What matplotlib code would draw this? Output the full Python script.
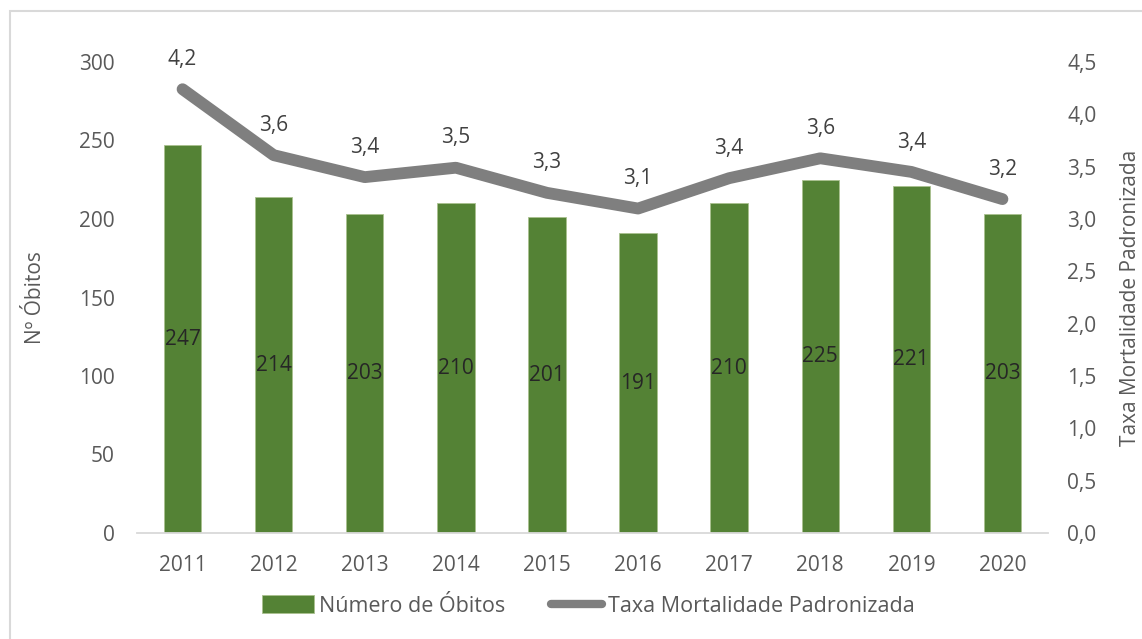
import matplotlib.pyplot as plt
from matplotlib.patches import Rectangle
from matplotlib.lines import Line2D

plt.rcParams['font.family'] = ['Open Sans', 'DejaVu Sans']

years = ['2011', '2012', '2013', '2014', '2015', '2016', '2017', '2018', '2019', '2020']
obitos = [247, 214, 203, 210, 201, 191, 210, 225, 221, 203]
taxa = [4.24, 3.61, 3.40, 3.49, 3.25, 3.10, 3.39, 3.58, 3.45, 3.19]
taxa_labels = ['4,2', '3,6', '3,4', '3,5', '3,3', '3,1', '3,4', '3,6', '3,4', '3,2']

green = '#548235'
grey = '#7f7f7f'
txt = '#595959'
fs = 15

fig = plt.figure(figsize=(11.42, 6.39), dpi=100)
# light border of the chart area
fig.patches.append(Rectangle((10 / 1142, -0.1), 1.2, 1 - 11 / 639 + 0.1,
                             transform=fig.transFigure, fill=False,
                             edgecolor='#d9d9d9', linewidth=1.5))

ax = fig.add_axes([137 / 1142, 1 - 533 / 639, 911 / 1142, 471 / 639])
x = list(range(len(years)))
bars = ax.bar(x, obitos, width=0.41, color=green, edgecolor='#a9c08f',
              linewidth=0.6, zorder=2)
for xi, v in zip(x, obitos):
    ax.text(xi, v / 2, str(v), ha='center', va='center', fontsize=fs,
            color='#262626', zorder=3)

ax.set_xlim(-0.5, 9.5)
ax.set_ylim(0, 300)
ax.set_yticks([0, 50, 100, 150, 200, 250, 300])
ax.set_xticks(x)
ax.set_xticklabels(years)
ax.set_ylabel('Nº Óbitos', fontsize=fs, color=txt, labelpad=24)
for s in ['top', 'right', 'left']:
    ax.spines[s].set_visible(False)
ax.spines['bottom'].set_color('#d9d9d9')
ax.spines['bottom'].set_linewidth(1.3)
ax.tick_params(axis='both', length=0, labelsize=fs, labelcolor=txt)
ax.tick_params(axis='y', pad=16)
ax.tick_params(axis='x', pad=16)

ax2 = ax.twinx()
ax2.plot(x, taxa, color=grey, linewidth=8.5, solid_capstyle='round',
         solid_joinstyle='round', zorder=4)
for xi, v, lab in zip(x, taxa, taxa_labels):
    ax2.annotate(lab, (xi, v), xytext=(0, 21.5), textcoords='offset points',
                 ha='center', va='center', fontsize=fs, color='#404040')
ax2.set_ylim(0, 4.5)
ax2.set_yticks([0, 0.5, 1, 1.5, 2, 2.5, 3, 3.5, 4, 4.5])
ax2.set_yticklabels([f'{t:.1f}'.replace('.', ',') for t in ax2.get_yticks()])
ax2.set_ylabel('Taxa Mortalidade Padronizada', fontsize=fs, color=txt, labelpad=17)
for s in ['top', 'right', 'left', 'bottom']:
    ax2.spines[s].set_visible(False)
ax2.tick_params(axis='y', length=0, labelsize=fs, labelcolor=txt, pad=14)

leg_line = Line2D([], [], color=grey, linewidth=6, solid_capstyle='round')
fig.legend([bars, leg_line], ['Número de Óbitos', 'Taxa Mortalidade Padronizada'],
           loc='center', bbox_to_anchor=(0.5153, 1 - 606 / 639), ncol=2,
           frameon=False, fontsize=15.5, labelcolor=txt, handlelength=2.4,
           handleheight=0.85, handletextpad=0.25, columnspacing=2.1)

fig.savefig('out.png', dpi=100)
